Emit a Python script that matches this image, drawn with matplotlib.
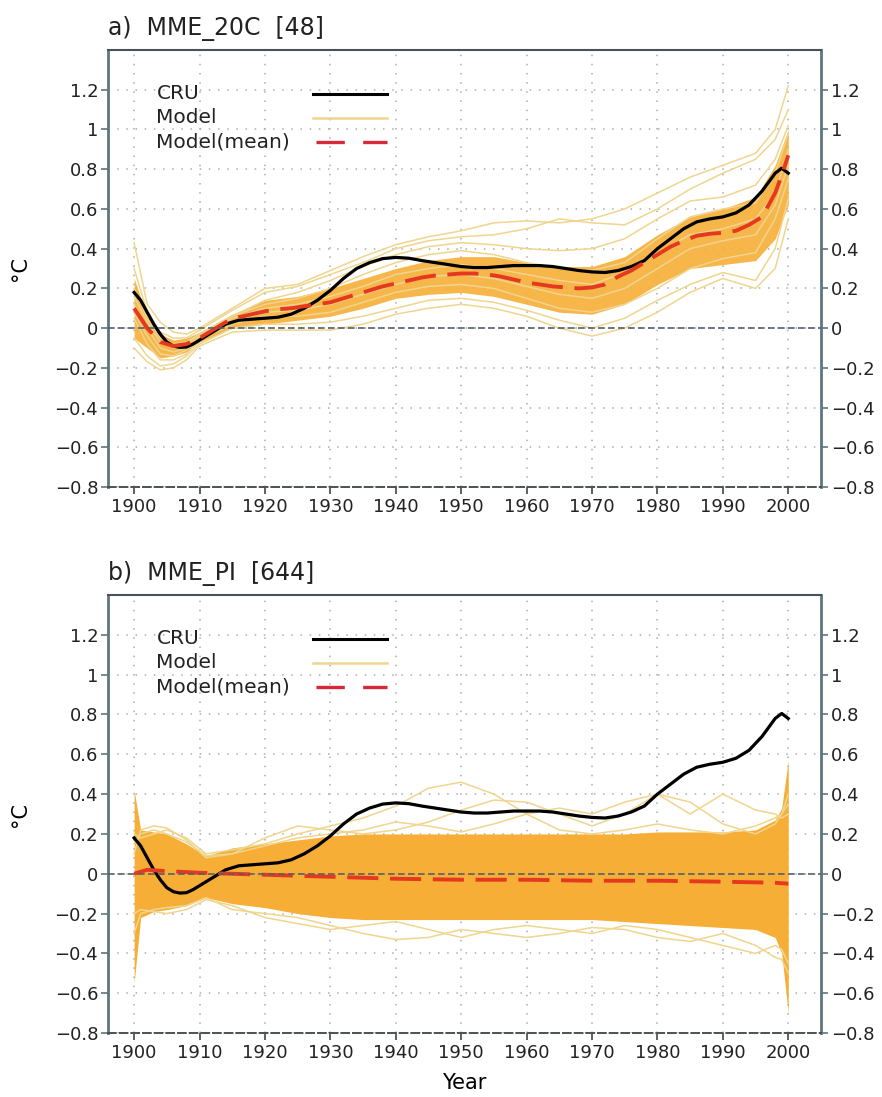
import matplotlib
matplotlib.use('Agg')
import matplotlib.pyplot as plt
from matplotlib.ticker import FuncFormatter

# CRU observed anomaly (same curve in both panels)
cru_years = [1900, 1901, 1902, 1903, 1904, 1905, 1906, 1907, 1908, 1909, 1910, 1912, 1914,
             1916, 1918, 1920, 1922, 1924, 1926, 1928, 1930, 1932, 1934, 1936, 1938, 1940,
             1942, 1944, 1946, 1948, 1950, 1952, 1954, 1956, 1958, 1960, 1962, 1964, 1966,
             1968, 1970, 1972, 1974, 1976, 1978, 1980, 1982, 1984, 1986, 1988, 1990, 1992,
             1994, 1996, 1998, 1999, 2000]
cru = [0.18, 0.14, 0.08, 0.02, -0.03, -0.07, -0.09, -0.097, -0.095, -0.08, -0.06, -0.02, 0.02,
       0.04, 0.045, 0.05, 0.055, 0.07, 0.10, 0.14, 0.19, 0.25, 0.30, 0.33, 0.35, 0.356,
       0.352, 0.34, 0.33, 0.32, 0.31, 0.305, 0.305, 0.31, 0.315, 0.315, 0.315, 0.31, 0.30,
       0.29, 0.283, 0.28, 0.29, 0.31, 0.34, 0.40, 0.45, 0.50, 0.535, 0.55, 0.56, 0.58,
       0.62, 0.69, 0.78, 0.805, 0.78]

# panel a: 20C ensemble mean
mean_a_years = [1900, 1902, 1904, 1906, 1908, 1910, 1912, 1914, 1916, 1918, 1920, 1922, 1924,
                1926, 1928, 1930, 1932, 1934, 1936, 1938, 1940, 1942, 1944, 1946, 1948, 1950,
                1952, 1954, 1956, 1958, 1960, 1962, 1964, 1966, 1968, 1970, 1972, 1974, 1976,
                1978, 1980, 1982, 1984, 1986, 1988, 1990, 1992, 1994, 1996, 1998, 1999, 2000]
mean_a = [0.10, 0.0, -0.07, -0.09, -0.08, -0.05, -0.01, 0.03, 0.055, 0.07, 0.085, 0.095, 0.10,
          0.11, 0.12, 0.13, 0.15, 0.17, 0.19, 0.21, 0.225, 0.24, 0.255, 0.265, 0.27, 0.275,
          0.275, 0.27, 0.26, 0.245, 0.23, 0.22, 0.21, 0.205, 0.20, 0.205, 0.22, 0.26, 0.29,
          0.33, 0.37, 0.41, 0.44, 0.465, 0.475, 0.48, 0.49, 0.52, 0.56, 0.68, 0.77, 0.87]

# panel a: individual members and dense core of the 48-member spread
ens_a_years = [1900, 1902, 1904, 1906, 1908, 1910, 1915, 1920, 1925, 1930, 1935, 1940, 1945,
               1950, 1955, 1960, 1965, 1970, 1975, 1980, 1985, 1990, 1995, 1998, 2000]
core_lo_a = [-0.05, -0.10, -0.15, -0.14, -0.12, -0.07, 0.0, 0.02, 0.04, 0.06, 0.10, 0.15, 0.17,
             0.18, 0.16, 0.12, 0.08, 0.07, 0.12, 0.22, 0.30, 0.32, 0.34, 0.45, 0.62]
core_hi_a = [0.25, 0.06, -0.03, -0.06, -0.05, -0.02, 0.07, 0.14, 0.16, 0.20, 0.25, 0.30, 0.34,
             0.36, 0.36, 0.33, 0.31, 0.31, 0.36, 0.47, 0.56, 0.60, 0.66, 0.82, 1.0]
members_a = [
    [0.43, 0.12, 0.03, -0.02, -0.03, 0.0, 0.10, 0.20, 0.22, 0.29, 0.36, 0.42, 0.46, 0.49, 0.53,
     0.54, 0.53, 0.55, 0.60, 0.68, 0.76, 0.82, 0.88, 1.0, 1.22],
    [0.30, 0.08, -0.02, -0.05, -0.05, -0.01, 0.09, 0.18, 0.21, 0.27, 0.33, 0.40, 0.44, 0.46, 0.47,
     0.50, 0.55, 0.53, 0.52, 0.60, 0.70, 0.78, 0.85, 0.95, 1.10],
    [0.20, 0.05, -0.05, -0.08, -0.07, -0.03, 0.06, 0.14, 0.18, 0.24, 0.31, 0.37, 0.41, 0.43, 0.42,
     0.40, 0.39, 0.40, 0.45, 0.55, 0.64, 0.66, 0.72, 0.85, 1.02],
    [0.16, 0.03, -0.07, -0.10, -0.08, -0.03, 0.06, 0.12, 0.15, 0.20, 0.27, 0.33, 0.37, 0.39, 0.37,
     0.33, 0.30, 0.29, 0.33, 0.45, 0.56, 0.60, 0.63, 0.78, 0.98],
    [0.12, 0.0, -0.10, -0.12, -0.10, -0.04, 0.05, 0.10, 0.12, 0.16, 0.21, 0.27, 0.30, 0.32, 0.30,
     0.27, 0.24, 0.22, 0.28, 0.38, 0.47, 0.50, 0.55, 0.68, 0.90],
    [0.08, -0.04, -0.13, -0.14, -0.11, -0.05, 0.03, 0.08, 0.09, 0.12, 0.17, 0.22, 0.26, 0.27, 0.25,
     0.21, 0.17, 0.15, 0.20, 0.30, 0.40, 0.44, 0.47, 0.62, 0.82],
    [0.05, -0.08, -0.16, -0.16, -0.13, -0.06, 0.02, 0.06, 0.06, 0.08, 0.13, 0.18, 0.21, 0.22, 0.20,
     0.15, 0.10, 0.08, 0.12, 0.20, 0.30, 0.35, 0.38, 0.55, 0.75],
    [-0.05, -0.14, -0.19, -0.18, -0.14, -0.08, 0.0, 0.02, 0.02, 0.03, 0.06, 0.10, 0.14, 0.15, 0.13,
     0.09, 0.04, 0.0, 0.05, 0.14, 0.22, 0.28, 0.24, 0.40, 0.65],
    [-0.10, -0.17, -0.21, -0.20, -0.16, -0.09, -0.02, -0.01, -0.01, -0.01, 0.02, 0.07, 0.10, 0.12,
     0.10, 0.06, 0.0, -0.04, 0.0, 0.08, 0.18, 0.25, 0.20, 0.30, 0.55],
]

# panel b: pre-industrial control ensemble mean
mean_b_years = [1900, 1902, 1904, 1910, 1920, 1930, 1940, 1950, 1960, 1970, 1980, 1990, 1998, 2000]
mean_b = [0.0, 0.02, 0.015, 0.005, -0.005, -0.015, -0.025, -0.03, -0.03, -0.035, -0.035, -0.04,
          -0.045, -0.05]

# panel b: dense core of the 644-member spread and outlying members
ens_b_years = [1900, 1901, 1903, 1905, 1908, 1911, 1915, 1920, 1925, 1930, 1935, 1940, 1945,
               1950, 1955, 1960, 1965, 1970, 1975, 1980, 1985, 1990, 1995, 1998, 1999, 2000]
core_hi_b = [0.42, 0.22, 0.21, 0.20, 0.15, 0.09, 0.13, 0.15, 0.17, 0.19, 0.20, 0.20, 0.20,
             0.20, 0.20, 0.20, 0.20, 0.20, 0.20, 0.21, 0.21, 0.21, 0.22, 0.27, 0.33, 0.57]
core_lo_b = [-0.55, -0.22, -0.19, -0.18, -0.16, -0.12, -0.15, -0.17, -0.20, -0.22, -0.23, -0.23,
             -0.23, -0.23, -0.23, -0.23, -0.23, -0.23, -0.24, -0.25, -0.26, -0.27, -0.28, -0.32,
             -0.40, -0.70]
members_b = [
    [0.20, 0.18, 0.20, 0.22, 0.18, 0.10, 0.12, 0.15, 0.20, 0.24, 0.28, 0.34, 0.43, 0.46, 0.40,
     0.30, 0.22, 0.20, 0.22, 0.25, 0.22, 0.20, 0.24, 0.28, 0.30, 0.40],
    [0.10, 0.22, 0.24, 0.23, 0.17, 0.08, 0.10, 0.18, 0.24, 0.22, 0.20, 0.22, 0.26, 0.32, 0.37,
     0.36, 0.30, 0.24, 0.30, 0.40, 0.36, 0.25, 0.20, 0.25, 0.30, 0.35],
    [0.15, 0.20, 0.22, 0.20, 0.16, 0.09, 0.10, 0.14, 0.18, 0.20, 0.22, 0.26, 0.24, 0.21, 0.25,
     0.30, 0.33, 0.30, 0.36, 0.40, 0.30, 0.40, 0.32, 0.30, 0.28, 0.30],
    [-0.30, -0.20, -0.18, -0.17, -0.16, -0.12, -0.18, -0.20, -0.22, -0.26, -0.30, -0.33, -0.32,
     -0.28, -0.30, -0.32, -0.30, -0.27, -0.28, -0.32, -0.34, -0.30, -0.36, -0.42, -0.43, -0.50],
    [-0.20, -0.18, -0.19, -0.20, -0.18, -0.13, -0.16, -0.22, -0.25, -0.28, -0.26, -0.24, -0.28,
     -0.32, -0.28, -0.26, -0.28, -0.30, -0.26, -0.28, -0.32, -0.36, -0.40, -0.36, -0.38, -0.45],
]

titles = ['a)  MME_20C  [48]', 'b)  MME_PI  [644]']
legend_labels = ['CRU', 'Model', 'Model(mean)']
yticks = [-0.8, -0.6, -0.4, -0.2, 0, 0.2, 0.4, 0.6, 0.8, 1, 1.2]
xticks = list(range(1900, 2001, 10))

PALE = '#efd58e'
ORANGE = '#f7ae36'
MEANRED = '#e5391f'
SPINE = '#5f767e'

plt.rcParams['font.family'] = ['DejaVu Sans']

fig = plt.figure(figsize=(8.82, 10.97), dpi=100)
ax_a = fig.add_axes([0.1224, 0.556, 0.8084, 0.3984])
ax_b = fig.add_axes([0.1224, 0.0583, 0.8084, 0.3993])


def style_axes(ax, title):
    ax.set_xlim(1896, 2005)
    ax.set_ylim(-0.8, 1.4)
    ax.set_xticks(xticks)
    ax.set_yticks(yticks)
    ax.yaxis.set_major_formatter(FuncFormatter(lambda v, p: ('%g' % v).replace('-', '\u2212')))
    ax.grid(True, color='#a8aeb2', linestyle=(0, (1, 5)), linewidth=1.1)
    ax.set_axisbelow(True)
    ax.axhline(0, color='#55606a', linestyle=(0, (4, 2)), linewidth=1.2, zorder=6)
    ax.tick_params(axis='y', direction='out', length=5, width=1.2, color=SPINE,
                   left=True, right=True, labelleft=True, labelright=True,
                   labelsize=13, pad=2, labelcolor='#222')
    ax.tick_params(axis='x', direction='out', length=5, width=1.2, color='#444',
                   labelsize=13, pad=3, labelcolor='#222')
    for side in ('left', 'right'):
        ax.spines[side].set_color(SPINE)
        ax.spines[side].set_linewidth(2.0)
    ax.spines['top'].set_color('#4a5258')
    ax.spines['top'].set_linewidth(1.5)
    ax.spines['bottom'].set_color('#4a5258')
    ax.spines['bottom'].set_linewidth(1.4)
    ax.spines['bottom'].set_linestyle((0, (4, 2)))
    ax.set_ylabel('\u00b0C', fontsize=15, labelpad=18)
    ax.text(0.0, 1.02, title, transform=ax.transAxes, fontsize=17, ha='left', va='bottom',
            color='#222')

    # legend drawn in axes units: labels left, samples right
    ys = [0.900, 0.845, 0.790]
    for lab, yy in zip(legend_labels, ys):
        ax.text(0.068, yy, lab, transform=ax.transAxes, fontsize=14.5, va='center',
                color='#222')
    ax.plot([0.287, 0.392], [ys[0], ys[0]], transform=ax.transAxes, color='black', lw=2.2)
    ax.plot([0.287, 0.392], [ys[1], ys[1]], transform=ax.transAxes, color=PALE, lw=1.8)
    ax.plot([0.292, 0.392], [ys[2], ys[2]], transform=ax.transAxes, color='#d8283a', lw=2.4,
            dashes=(8.5, 5.5), dash_capstyle='butt')


style_axes(ax_a, titles[0])
style_axes(ax_b, titles[1])
ax_b.set_xlabel('Year', fontsize=15, labelpad=8)

# panel a
ax_a.fill_between(ens_a_years, core_lo_a, core_hi_a, color=ORANGE, alpha=0.9, lw=0, zorder=2)
for m in members_a:
    ax_a.plot(ens_a_years, m, color=PALE, lw=1.1, zorder=3)
ax_a.plot(cru_years, cru, color='black', lw=2.3, zorder=5)
ax_a.plot(mean_a_years, mean_a, color=MEANRED, lw=2.8, dashes=(8, 3), zorder=5)

# panel b
ax_b.fill_between(ens_b_years, core_lo_b, core_hi_b, color=ORANGE, lw=0, zorder=2)
for m in members_b:
    ax_b.plot(ens_b_years, m, color=PALE, lw=1.1, zorder=3)
ax_b.plot(cru_years, cru, color='black', lw=2.3, zorder=5)
ax_b.plot(mean_b_years, mean_b, color=MEANRED, lw=2.8, dashes=(8, 3), zorder=5)

fig.savefig('out.png', dpi=100)
